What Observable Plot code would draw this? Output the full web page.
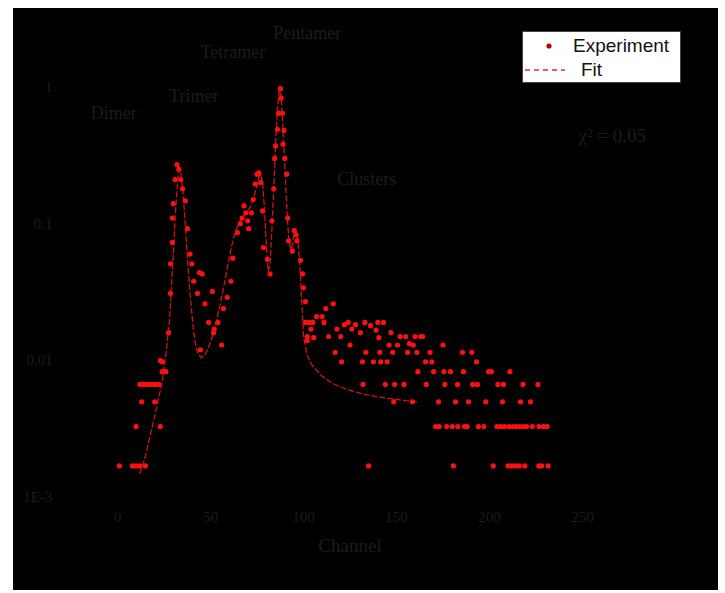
<!DOCTYPE html>
<html><head><meta charset="utf-8">
<script src="https://cdn.jsdelivr.net/npm/d3@7"></script>
<script src="https://cdn.jsdelivr.net/npm/@observablehq/plot@0.6"></script>
<style>
body{margin:0;background:#fff;width:725px;height:593px;overflow:hidden;position:relative;}
#panel{position:absolute;left:13px;top:8px;width:705px;height:582px;background:#000;}
#legend{position:absolute;left:522px;top:31px;width:157px;height:50px;background:#fff;border:1px solid #444;font-family:"Liberation Sans",Arial,sans-serif;font-size:19px;color:#111;overflow:hidden;}
#legend .row{position:absolute;left:0;height:22px;display:flex;align-items:center;white-space:nowrap;}
</style></head><body>
<div id="panel"></div>
<div id="legend">
  <div class="row" style="top:3px"><svg width="50" height="22"><circle cx="26" cy="11" r="2.6" fill="#c00000"/></svg><span style="margin-left:0px">Experiment</span></div>
  <div class="row" style="top:27px"><svg width="50" height="22"><line x1="2" y1="11" x2="42" y2="11" stroke="#e03030" stroke-width="1.3" stroke-dasharray="5,4"/></svg><span style="margin-left:8px">Fit</span></div>
</div>
<script>
// experimental points: [channel, normalized counts]
const experimentPoints = [
 [1,0.0017],[8,0.0017],[10,0.0017],[12,0.0017],[15,0.0017],
 [10,0.0033],[23,0.0033],[13,0.005],[20,0.005],
 [12,0.0067],[14,0.0067],[16,0.0067],[18,0.0067],[20,0.0067],[22,0.0067],
 [24,0.0083],[25,0.0083],[26,0.0083],[23,0.01],[24,0.0098],
 [27.5,0.016],[28.5,0.031],[28.5,0.051],[29.5,0.073],[29.5,0.11],[30,0.14],[31,0.21],[32,0.27],[33,0.25],[34,0.21],
 [35,0.18],[36.5,0.147],[37.6,0.092],[39,0.06],[40,0.051],[41,0.038],[43,0.031],[44,0.044],[45.5,0.043],[44.6,0.012],
 [47,0.026],[49,0.019],[51,0.032],[51.6,0.016],[52,0.017],[54,0.019],[56,0.013],[57,0.024],[59,0.029],[61,0.038],
 [62,0.056],[64.5,0.086],[66,0.1],[67,0.11],[68,0.135],[69,0.12],[70,0.105],[70.5,0.092],[72,0.12],[73,0.15],
 [74,0.195],[75,0.23],[76,0.235],[77,0.2],[78,0.124],[78.5,0.067],[80.6,0.055],[82,0.043],[83,0.105],[84,0.18],
 [84.5,0.3],[85,0.37],[86,0.49],[86.6,0.64],[87.6,0.97],[88,0.83],[88.7,0.64],[89,0.38],[89.5,0.48],[90,0.3],
 [91,0.23],[91.5,0.11],[92,0.075],[94,0.063],[95,0.089],[96,0.083],[96.5,0.075],[98.4,0.054],[99.5,0.043],[100,0.034],
 [101,0.027],[102,0.014],[103,0.019],
 [101,0.019],[102,0.015],[104,0.017],[105,0.019],[105.5,0.0147],[107,0.021],[110,0.021],[111,0.019],[112,0.024],[113.5,0.015],
 [116,0.026],[117,0.0115],[118,0.017],[120,0.015],[120.5,0.0098],[122,0.0183],[124,0.019],[125,0.013],[126,0.017],[128,0.0183],
 [130.6,0.016],[131.7,0.0098],[132,0.0067],[133,0.019],[133.5,0.0115],[135,0.0017],[136,0.018],[137.6,0.0098],[139,0.0167],[140,0.019],
 [140.5,0.0147],[141,0.0115],[141.5,0.0098],[143,0.019],[144,0.0067],[145,0.0098],[146,0.013],[147,0.016],[148,0.0115],[148.5,0.005],
 [149,0.0067],[150.5,0.013],[152,0.015],[154,0.0067],[155,0.015],[156,0.0115],[157,0.0133],[158.6,0.005],[159,0.013],[160,0.015],
 [161,0.0115],[161.5,0.0083],[163,0.015],[164,0.015],[165.6,0.0098],[166,0.0067],[168,0.0115],[169,0.0098],[170,0.0083],[171,0.0033],
 [172.6,0.005],[173,0.0033],[175,0.013],[175.5,0.0083],[176,0.0067],[177,0.0033],[179,0.0083],[180,0.0033],[180.6,0.0017],[181.7,0.005],
 [182.8,0.0067],[183,0.0033],[185.5,0.0115],[186,0.0083],[186.5,0.0033],[188,0.0033],[188.7,0.005],[190.5,0.0115],[191,0.0067],[193,0.0098],
 [193.5,0.0067],[194,0.0033],[197,0.0033],[198,0.005],[199.5,0.0083],[201,0.0083],[202,0.0017],[204,0.0033],[204.5,0.0067],[206,0.0033],
 [207,0.005],[207.5,0.0067],[208,0.0033],[210,0.0017],[210.5,0.0033],[211,0.0083],[212,0.0017],[212.5,0.0033],[214,0.0017],[214.5,0.0033],
 [216,0.0017],[216.5,0.0033],[216.7,0.005],[218,0.0067],[218.5,0.0033],[219,0.0017],[220,0.0033],[222,0.005],[223,0.0033],[226,0.0067],
 [226.5,0.0017],[226.6,0.0033],[228,0.0017],[229,0.0033],[231,0.0033],[231.5,0.0017]
];
const fitChannel = [12,15,18,21,24,26,28,29,30,31,32,33,34,35,36,37,38,39,40,41,42,43,45,47,49,51,53,55,57,59,61,63,65,67,69,71,73,75,76,77,78,79,80,81,82,83,84,85,86,87,88,89,90,91,92,93,94,95,96,97,98,99,100,102,104,107,110,115,120,126,132,138,145,155,162];
const fitValue = [0.0015,0.002,0.003,0.0045,0.007,0.011,0.02,0.035,0.06,0.11,0.18,0.25,0.24,0.18,0.12,0.075,0.047,0.031,0.022,0.016,0.013,0.0115,0.0105,0.011,0.0125,0.015,0.019,0.025,0.034,0.047,0.065,0.085,0.1,0.11,0.12,0.13,0.15,0.19,0.22,0.23,0.2,0.13,0.07,0.045,0.05,0.09,0.18,0.38,0.7,0.95,0.85,0.5,0.25,0.13,0.08,0.065,0.07,0.085,0.09,0.075,0.05,0.028,0.015,0.011,0.0095,0.0085,0.0077,0.0069,0.0064,0.006,0.0057,0.0055,0.0053,0.0051,0.005];
const xTicks = [0,50,100,150,200,250];
const yTicks = [1,0.1,0.01,0.001];
const yTickLabels = ["1","0.1","0.01","1E-3"];
const peakLabels = ["Dimer","Trimer","Tetramer","Pentamer","Clusters"];
const peakLabelChannel = [-2,41,62,102,134];
const peakLabelValue = [0.64,0.86,1.78,2.45,0.21];
const fitNote = ["χ² = 0.05"];
const fitNoteChannel = [266];
const fitNoteValue = [0.44];

const fit = fitChannel.map((c,i)=>({c, v: fitValue[i]}));
const exp = experimentPoints.map(([c,v])=>({c,v}));
const labels = peakLabels.map((t,i)=>({t, c: peakLabelChannel[i], v: peakLabelValue[i]}));
const note = fitNote.map((t,i)=>({t, c: fitNoteChannel[i], v: fitNoteValue[i]}));
const textColor = "#1c1c1c";

const chart = Plot.plot({
  width: 705, height: 582,
  marginLeft: 104, marginRight: 136, marginTop: 13, marginBottom: 93,
  style: {background: "transparent", fontFamily: "'Liberation Serif', serif"},
  x: {domain: [0,250]},
  y: {type: "log", domain: [0.001, 3]},
  marks: [
    Plot.axisX({ticks: xTicks, tickSize: 0, tickPadding: 14, fontSize: 15, color: textColor, label: null}),
    Plot.axisY({ticks: yTicks, tickSize: 0, tickPadding: 65, fontSize: 15, color: textColor, label: null,
      tickFormat: d => yTickLabels[yTicks.indexOf(d)]}),
    Plot.text(["Channel"], {frameAnchor: "bottom", dy: 54, fontSize: 19, fill: textColor}),
    Plot.line(fit, {x: "c", y: "v", stroke: "#cc1414", strokeWidth: 1.3, strokeDasharray: "5,3"}),
    Plot.dot(exp, {x: "c", y: "v", r: 2.6, fill: "#ff1010", stroke: "none"}),
    Plot.text(labels, {x: "c", y: "v", text: "t", fontSize: 18, fill: textColor}),
    Plot.text(note, {x: "c", y: "v", text: "t", fontSize: 19, fill: textColor})
  ]
});
document.getElementById("panel").appendChild(chart);
</script>
</body></html>
